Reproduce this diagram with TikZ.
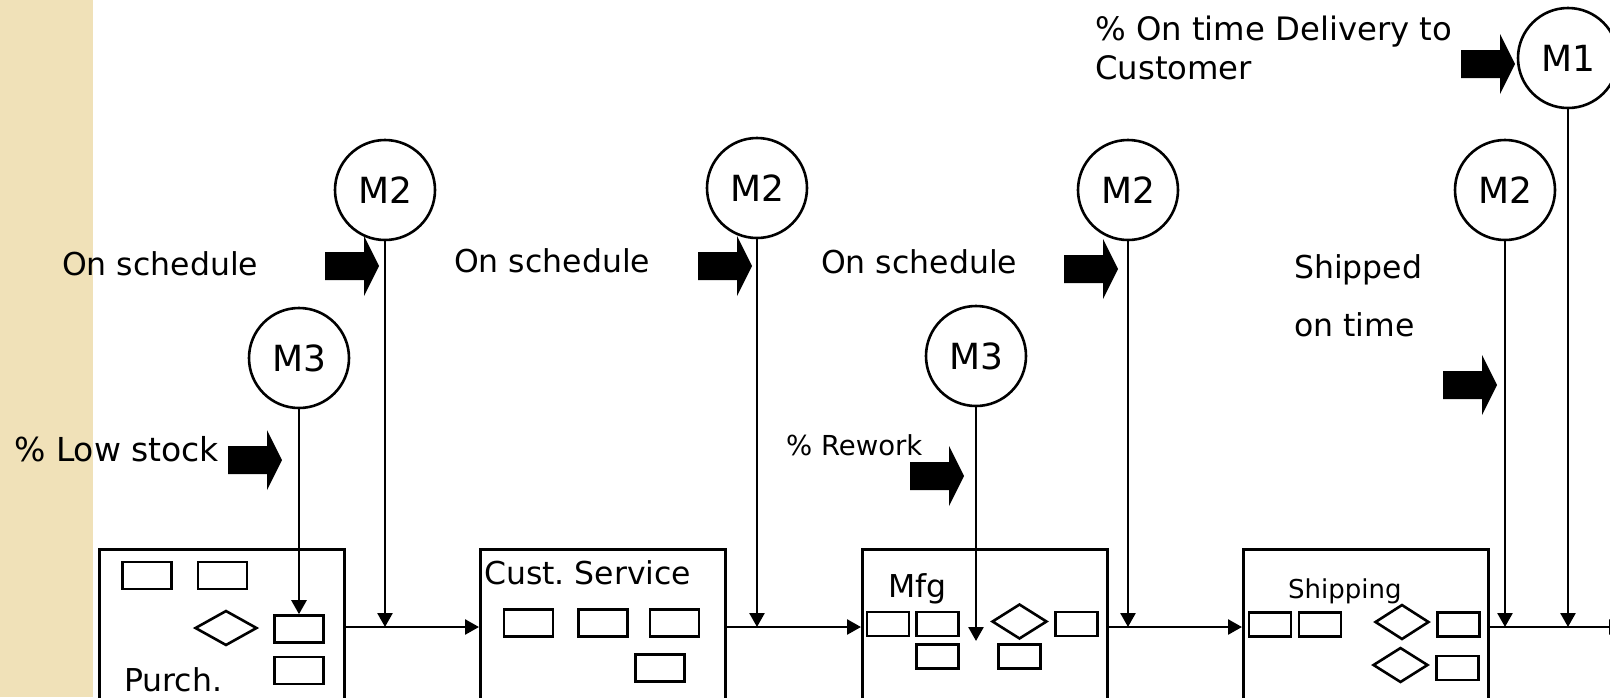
\documentclass[tikz,border=0pt]{standalone}
\usepackage{fontspec}
\setmainfont{DejaVu Sans}
\usetikzlibrary{arrows.meta,shapes.geometric,calc}
\definecolor{stripe}{RGB}{240,225,184}
\frenchspacing
\begin{document}
\begin{tikzpicture}[x=1pt,y=-1pt,
  box/.style={draw,line width=3pt,minimum width=245pt,minimum height=150pt,inner sep=0pt,anchor=north west},
  sr/.style={draw,line width=2.6pt,minimum width=49pt,minimum height=27pt,inner sep=0pt},
  ssr/.style={draw,line width=2.6pt,minimum width=42pt,minimum height=24pt,inner sep=0pt},
  dia/.style={draw,diamond,line width=2.6pt,minimum width=#1,minimum height=35pt,inner sep=0pt},
  mc/.style={draw,circle,line width=2.6pt,minimum size=100pt,inner sep=0pt,fill=white,font=\fontsize{36}{40}\selectfont},
  conn/.style={line width=2.6pt,-{Triangle[length=14pt,width=15pt]}},
  txt/.style={inner sep=0pt,anchor=base west,font=\fontsize{31.5}{38}\selectfont},
  smalltxt/.style={inner sep=0pt,anchor=base west,font=\fontsize{26}{30}\selectfont},
  fatarrow/.pic={\fill[black] (0,0) -- (-15,-30) -- (-15,-14) -- (-54,-14) -- (-54,14) -- (-15,14) -- (-15,30) -- cycle;}
]
\clip (0,0) rectangle (1610,697);
\fill[white] (0,0) rectangle (1610,697);
\fill[stripe] (0,0) rectangle (93,697);

% flow level
\coordinate (fy) at (0,627);

% process boxes
\node[box] (purch) at (98,548) {};
\node[box] (cust) at (479,548) {};
\node[box] (mfg) at (861,548) {};
\node[box] (ship) at (1242,548) {};

% Purch contents
\node[sr] (p1) at (147,575.5) {};
\node[sr] (p2) at (222.5,575.5) {};
\node[dia=62pt] (pd) at (226,628) {};
\node[sr] (p3) at (299,629) {};
\node[sr] (p4) at (299,670.5) {};
\node[txt] (purchlbl) at (124,691) {Purch.};

% Cust contents
\node[txt] (custlbl) at (484,584) {Cust. Service};
\node[sr] (c1) at (528.5,623) {};
\node[sr] (c2) at (603,623) {};
\node[sr] (c3) at (674.5,623) {};
\node[sr] (c4) at (660,668) {};

% Mfg contents
\node[txt] (mfglbl) at (888,597) {Mfg};
\node[ssr] (f1) at (888,624) {};
\node[ssr] (f2) at (937.5,624) {};
\node[ssr] (f3) at (937.5,656.5) {};
\node[dia=55pt] (fd) at (1019.5,621.5) {};
\node[ssr] (f4) at (1076.5,624) {};
\node[ssr] (f5) at (1019.5,656.5) {};

% Shipping contents
\node[smalltxt] (shiplbl) at (1288,598) {Shipping};
\node[ssr] (s1) at (1270,624.5) {};
\node[ssr] (s2) at (1320,624.5) {};
\node[dia=54pt] (sd1) at (1402,622) {};
\node[ssr] (s3) at (1458.5,624.5) {};
\node[dia=55pt] (sd2) at (1400.5,665) {};
\node[ssr] (s4) at (1457.5,668) {};

% measurement circles
\node[mc] (m2a) at (385,190) {M2};
\node[mc] (m2b) at (757,188) {M2};
\node[mc] (m2c) at (1128,190) {M2};
\node[mc] (m2d) at (1505,190) {M2};
\node[mc] (m3a) at (299,358) {M3};
\node[mc] (m3b) at (976,356) {M3};
\node[mc] (m1) at (1568,58) {M1};

% flow connectors
\coordinate (out) at (1623,627);
\coordinate (mfgtip) at (976,641);
\draw[conn] (purch.east |- fy) -- (cust.west |- fy);
\draw[conn] (cust.east |- fy) -- (mfg.west |- fy);
\draw[conn] (mfg.east |- fy) -- (ship.west |- fy);
\draw[conn] (ship.east |- fy) -- (out);

% measurement connectors
\draw[conn] (m2a) -- (m2a |- fy);
\draw[conn] (m2b) -- (m2b |- fy);
\draw[conn] (m2c) -- (m2c |- fy);
\draw[conn] (m2d) -- (m2d |- fy);
\draw[conn] (m1) -- (m1 |- fy);
\draw[conn] (m3a) -- (p3.north);
\draw[conn] (m3b) -- (mfgtip);

% block arrows
\pic at (379,266) {fatarrow};
\pic at (752,266) {fatarrow};
\pic at (1118,269) {fatarrow};
\pic at (282,460) {fatarrow};
\pic at (964,476) {fatarrow};
\pic at (1497,385) {fatarrow};
\pic at (1515,64) {fatarrow};

% labels
\node[txt] (os1) at (62,275) {On schedule};
\node[txt] (os2) at (454,272) {On schedule};
\node[txt] (os3) at (821,273) {On schedule};
\node[inner sep=0pt,anchor=base west,font=\fontsize{33}{38}\selectfont] (low) at (14,461) {\% Low stock};
\node[inner sep=0pt,anchor=base west,font=\fontsize{27.5}{30}\selectfont] (rew) at (786,455) {\% Rework};
\node[inner sep=0pt,anchor=base west,font=\fontsize{32.3}{38}\selectfont] (otd1) at (1095,40) {\% On time Delivery to};
\node[inner sep=0pt,anchor=base west,font=\fontsize{32.3}{38}\selectfont] (otd2) at (1095,79) {Customer};
\node[txt] (sh1) at (1294,278) {Shipped};
\node[txt] (sh2) at (1294,336) {on time};
\end{tikzpicture}
\end{document}
